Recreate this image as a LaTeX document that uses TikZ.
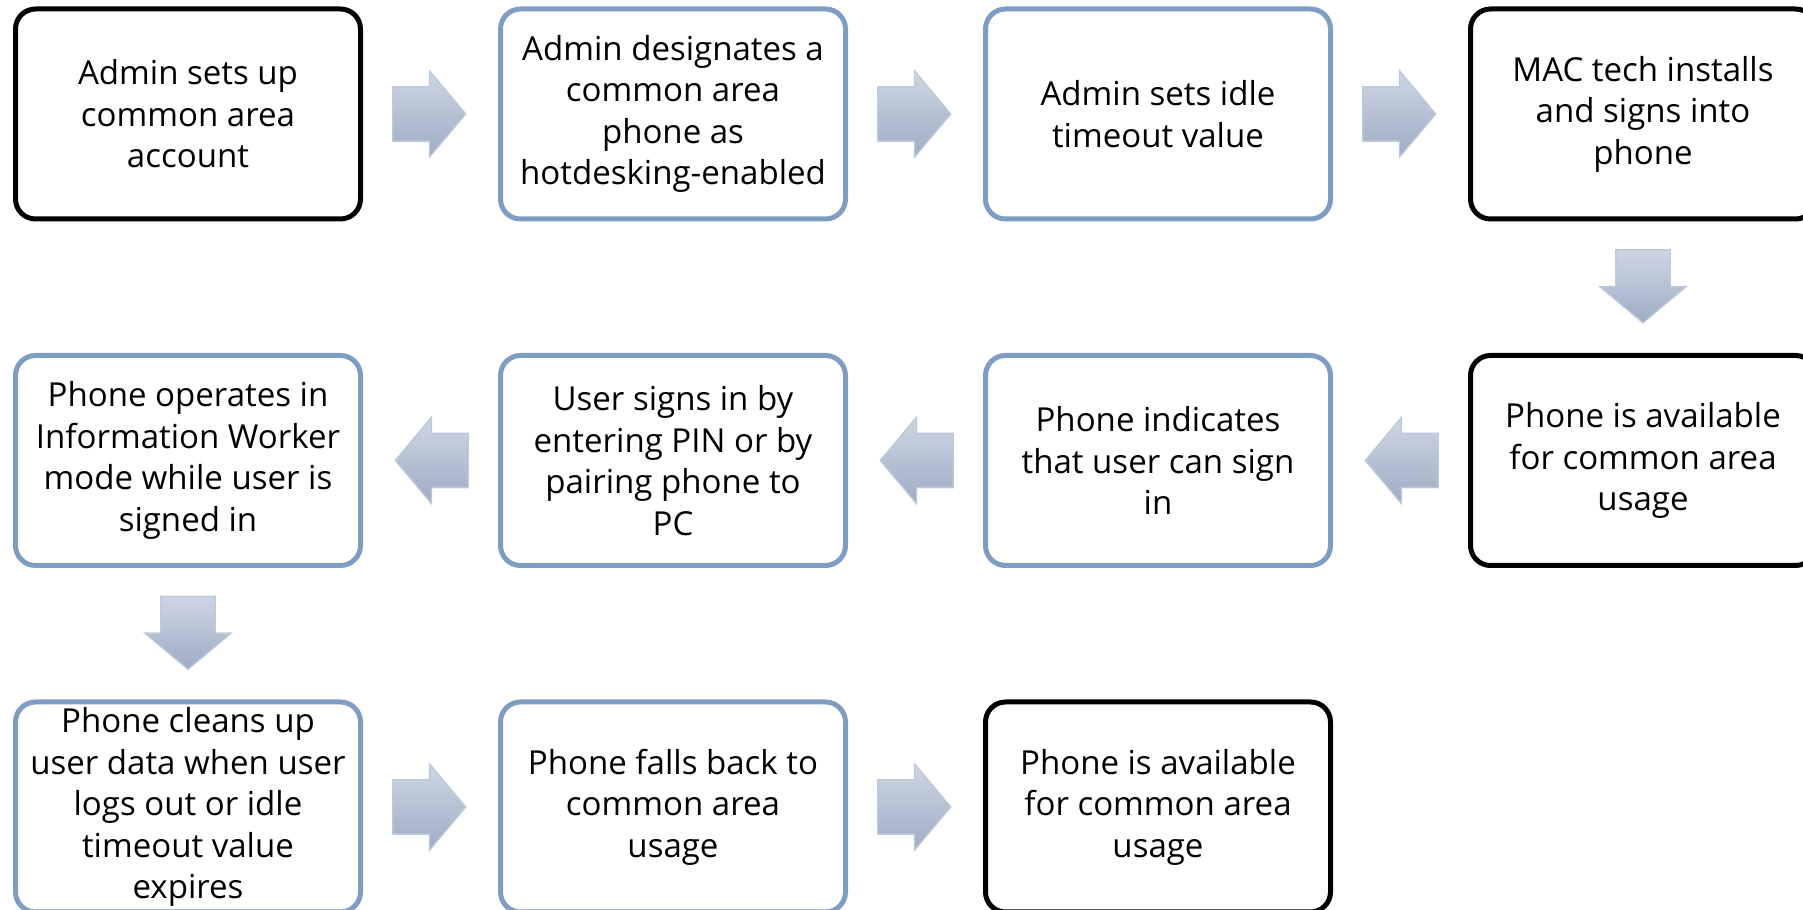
\documentclass[tikz,border=0pt]{standalone}
\usepackage{fontspec}
\setmainfont{Open Sans}
\usetikzlibrary{positioning,calc,shapes.arrows}

\definecolor{stepblue}{RGB}{127,157,195}
\definecolor{arrowtop}{RGB}{205,214,228}
\definecolor{arrowbot}{RGB}{158,172,194}
\definecolor{arrowedge}{RGB}{190,202,220}

\tikzset{
  stepbox/.style={draw, rectangle, rounded corners=0.2cm, line width=0.05cm,
    minimum width=3.45cm, minimum height=2.10cm, inner ysep=-3mm,
    align=center, font=\fontsize{9.4}{11.8}\selectfont},
  blackbox/.style={stepbox, draw=black},
  bluebox/.style={stepbox, draw=stepblue},
  flowarrow/.style={single arrow, anchor=tail, inner xsep=0pt, inner ysep=0.265cm,
    minimum height=0.73cm, single arrow head extend=0.16cm,
    single arrow tip angle=100, top color=arrowtop, bottom color=arrowbot,
    draw=arrowedge, line width=0.4pt},
  downflow/.style={flowarrow, shape border rotate=270,
    inner xsep=0.265cm, inner ysep=0pt},
  backflow/.style={flowarrow, shape border rotate=180},
  node distance=1.315cm and 1.35cm
}

\begin{document}
\begin{tikzpicture}
\useasboundingbox (0,0) rectangle (18.03,-9.10);

% first row, left to right
\node[blackbox] at (1.88,-1.14) (s1) {Admin sets up\\common area\\account};
\node[bluebox, right=of s1] (s2) {Admin designates a\\common area\\phone as\\hotdesking-enabled};
\node[bluebox, right=of s2] (s3) {Admin sets idle\\timeout value};
\node[blackbox, right=of s3] (s4) {MAC tech installs\\and signs into\\phone};

% second row, right to left
\node[blackbox, below=of s4] (s5) {Phone is available\\for common area\\usage};
\node[bluebox, left=of s5] (s6) {Phone indicates\\that user can sign\\in};
\node[bluebox, left=of s6] (s7) {User signs in by\\entering PIN or by\\pairing phone to\\PC};
\node[bluebox, left=of s7] (s8) {Phone operates in\\Information Worker\\mode while user is\\signed in};

% third row
\node[bluebox, below=of s8] (s9) {Phone cleans up\\user data when user\\logs out or idle\\timeout value\\expires};
\node[bluebox, right=of s9] (s10) {Phone falls back to\\common area\\usage};
\node[blackbox, right=of s10] (s11) {Phone is available\\for common area\\usage};

% block arrows between the steps (tail sits near the box it leaves)
\node[flowarrow] (a1) at ($(s1.east)!0.215!(s2.west)$) {};
\node[flowarrow] (a2) at ($(s2.east)!0.215!(s3.west)$) {};
\node[flowarrow] (a3) at ($(s3.east)!0.215!(s4.west)$) {};
\node[downflow] (a4) at ($(s4.south)!0.21!(s5.north)$) {};
\node[backflow] (a5) at ($(s5.west)!0.215!(s6.east)$) {};
\node[backflow] (a6) at ($(s6.west)!0.215!(s7.east)$) {};
\node[backflow] (a7) at ($(s7.west)!0.215!(s8.east)$) {};
\node[downflow] (a8) at ($(s8.south)!0.21!(s9.north)$) {};
\node[flowarrow] (a9) at ($(s9.east)!0.215!(s10.west)$) {};
\node[flowarrow] (a10) at ($(s10.east)!0.215!(s11.west)$) {};
\end{tikzpicture}
\end{document}
